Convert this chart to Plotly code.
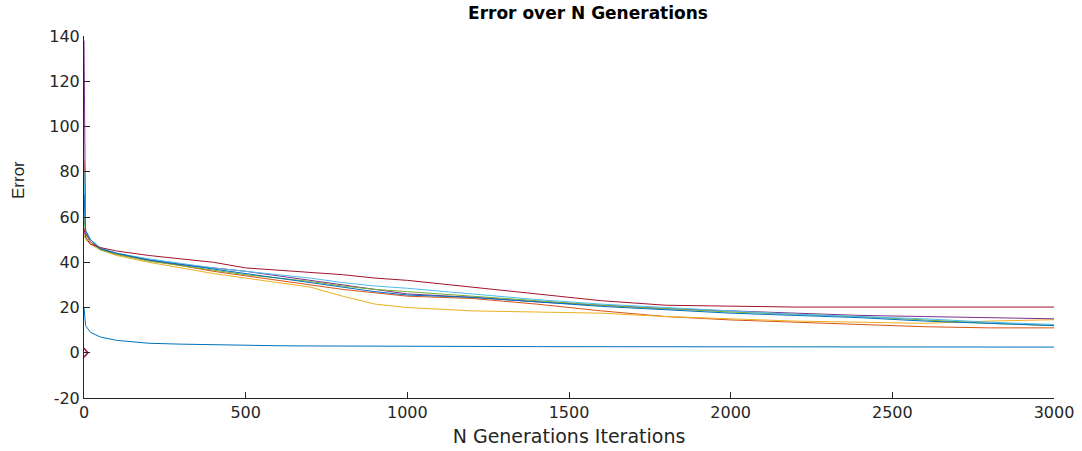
import plotly.graph_objects as go

iterations = [0, 5, 20, 50, 100, 200, 300, 400, 500, 600, 700, 800, 900, 1000,
              1200, 1400, 1600, 1800, 2000, 2200, 2400, 2600, 2800, 3000]

run_bottom = [20, 12, 9, 7, 5.5, 4.2, 3.8, 3.5, 3.3, 3.1, 3.0, 2.9, 2.9, 2.8,
              2.8, 2.7, 2.7, 2.7, 2.6, 2.6, 2.6, 2.6, 2.5, 2.5]
run_orange = [85, 53, 49, 46, 43.5, 41, 38.5, 36, 34, 32, 30, 28, 26.5, 25,
              24, 21.5, 18.5, 16, 14.5, 13.5, 12.5, 11.5, 11, 11]
run_yellow = [52, 50, 48, 45.5, 43, 40, 37.5, 35, 33, 31, 29, 25, 21.5, 20,
              18.5, 18, 17.5, 16, 15, 14, 13.5, 13, 14, 14.6]
run_purple = [138, 53, 49, 46, 44, 41, 39, 37.5, 36, 34, 32, 30, 28, 26,
              24.5, 22.5, 21, 19.5, 18.5, 17.5, 16.5, 16, 15.5, 15]
run_green = [60, 52, 49, 45.5, 43.5, 40.5, 38.5, 36.5, 34.5, 33, 31.5, 29.5, 28, 27,
             25, 23, 21, 19.5, 18, 17, 16, 14.5, 13, 12]
run_lightblue = [80, 54, 50, 46.5, 44, 41.5, 39.5, 37.5, 36, 34.5, 33, 31, 29.5, 28.5,
                 26, 23.5, 21.5, 20, 18.5, 17, 16, 15, 13.5, 12.5]
run_darkred = [55, 51, 48, 46.5, 45, 43, 41.5, 40, 37.5, 36.5, 35.5, 34.5, 33, 32,
               29, 26, 23, 21, 20.5, 20.2, 20.2, 20.2, 20.2, 20.2]
run_blue = [70, 54, 50, 46, 44, 41, 39, 37, 35, 33, 31, 29, 27, 25.5,
            24.5, 22.5, 20.5, 19, 17.5, 16.5, 15.5, 14, 13, 12]

marker_x = [0, 12, 0]
marker_y = [2, 0, -2]

x_ticks = [0, 500, 1000, 1500, 2000, 2500, 3000]
y_ticks = [-20, 0, 20, 40, 60, 80, 100, 120, 140]
y_tick_text = ["-20", "0", "20", "40", "60", "80", "100", "120", "140"]

series = [
    ("run 1", run_bottom, "#0072BD"),
    ("run 2", run_orange, "#D95319"),
    ("run 3", run_yellow, "#EDB120"),
    ("run 4", run_purple, "#7E2F8E"),
    ("run 5", run_green, "#77AC30"),
    ("run 6", run_lightblue, "#4DBEEE"),
    ("run 7", run_darkred, "#A2142F"),
    ("run 8", run_blue, "#0072BD"),
]

fig = go.Figure()
for name, vals, col in series:
    fig.add_trace(go.Scatter(x=iterations, y=vals, mode="lines", name=name,
                             line=dict(color=col, width=1)))
fig.add_trace(go.Scatter(x=marker_x, y=marker_y, mode="lines", name="run 9",
                         line=dict(color="#A2142F", width=1.5)))

WIDE = "DejaVu Sans, Verdana, sans-serif"
FONT = "Liberation Sans, Arial, sans-serif"
axis_font = dict(family=WIDE, size=16, color="#262626")
fig.update_layout(
    width=1082, height=451,
    margin=dict(l=84, r=28, t=36, b=53),
    paper_bgcolor="white", plot_bgcolor="white",
    showlegend=False,
    title=dict(text="<b>Error over N Generations</b>", x=588/1082, xanchor="center",
               y=1 - 13/451, yanchor="middle",
               font=dict(family=WIDE, size=17, color="#000000")),
    xaxis=dict(range=[0, 3000], tickvals=x_ticks,
               showgrid=False, zeroline=False, showline=True, linecolor="#262626",
               linewidth=1, ticks="inside", ticklen=6, tickcolor="#262626",
               tickfont=axis_font, automargin=False,
               title=dict(text="N Generations Iterations",
                          font=dict(family=WIDE, size=19, color="#262626"),
                          standoff=8)),
    yaxis=dict(range=[-20, 140], tickvals=y_ticks, ticktext=y_tick_text,
               showgrid=False, zeroline=False, showline=True, linecolor="#262626",
               linewidth=1, ticks="inside", ticklen=6, tickcolor="#262626",
               tickfont=axis_font, automargin=False),
    annotations=[dict(text="Error", textangle=-90, showarrow=False,
                      xref="paper", yref="paper",
                      x=(18 - 84) / 970, y=(398 - 180) / 362,
                      xanchor="center", yanchor="middle",
                      font=dict(family=FONT, size=17, color="#262626"))],
)

fig.write_html("out.html", config={"displayModeBar": False},
               post_script="document.body.style.margin='0';")
